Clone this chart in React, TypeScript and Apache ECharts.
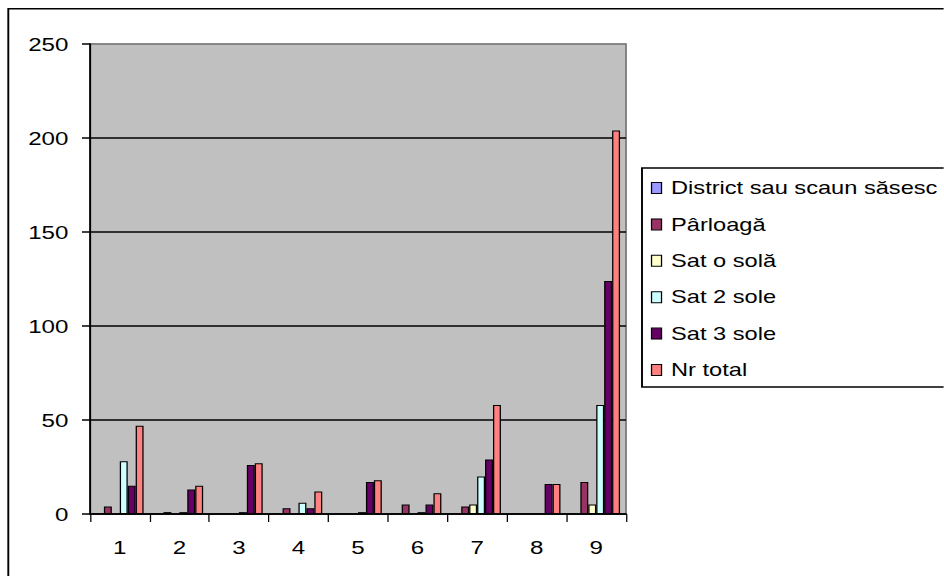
import React, { useEffect, useRef } from "react";
import * as echarts from "echarts";

const categories = ["1", "2", "3", "4", "5", "6", "7", "8", "9"];
const seriesNames = ["District sau scaun săsesc", "Pârloagă", "Sat o solă", "Sat 2 sole", "Sat 3 sole", "Nr total"];
const district = [0, 0, 0, 0, 0, 0, 0, 0, 0];
const parloaga = [4, 1, 0, 3, 0, 5, 4, 0, 17];
const satOSola = [0, 0, 0, 0, 0, 0, 5, 0, 5];
const sat2Sole = [28, 1, 1, 6, 1, 1, 20, 0, 58];
const sat3Sole = [15, 13, 26, 3, 17, 5, 29, 16, 124];
const nrTotal = [47, 15, 27, 12, 18, 11, 58, 16, 204];
const colors = ["#9999FF", "#993366", "#FFFFCC", "#CCFFFF", "#660066", "#FF8080"];
const yMax = 250;
const yInterval = 50;

const S = 1.27; // horizontal stretch of the original picture
const W = 944 / S;
const FONT = "'Liberation Sans', Arial, sans-serif";
const FS = 19;
const LFS = 18.6;

export default function App() {
  const ref = useRef<HTMLDivElement>(null);
  useEffect(() => {
    if (!ref.current) return;
    const chart = echarts.init(ref.current, undefined, { renderer: "svg" });
    const all = [district, parloaga, satOSola, sat2Sole, sat3Sole, nrTotal];
    chart.setOption({
      animation: false,
      backgroundColor: "#ffffff",
      grid: {
        left: 90 / S,
        top: 44,
        width: (626 - 90) / S,
        height: 470,
        show: true,
        backgroundColor: "#C0C0C0",
        borderColor: "#808080",
        borderWidth: 1.5,
      },
      legend: {
        orient: "vertical",
        left: 642 / S,
        top: 168,
        padding: [10, 14, 7, 7],
        borderColor: "#000",
        borderWidth: 1.5,
        backgroundColor: "#fff",
        itemWidth: 10 / S,
        itemHeight: 11,
        itemGap: 16.4,
        icon: "rect",
        itemStyle: { borderColor: "#000", borderWidth: 1 },
        textStyle: { fontFamily: FONT, fontSize: LFS, color: "#000", lineHeight: 20, padding: [0, 0, 0, 2.5] },
        data: seriesNames,
      },
      graphic: [
        {
          type: "rect",
          shape: { x: 8.3 / S, y: 8.8, width: 900, height: 700 },
          style: { fill: "none", stroke: "#000", lineWidth: 1.5 },
          silent: true,
          z: 100,
        },
      ],
      xAxis: {
        type: "category",
        data: categories,
        boundaryGap: true,
        axisLine: { lineStyle: { color: "#000", width: 1.5 } },
        axisTick: { show: true, length: 8, alignWithLabel: false, lineStyle: { color: "#000", width: 1 } },
        axisLabel: { fontFamily: FONT, fontSize: FS, color: "#000", margin: 24 },
        splitLine: { show: false },
      },
      yAxis: {
        type: "value",
        min: 0,
        max: yMax,
        interval: yInterval,
        axisLine: { show: true, lineStyle: { color: "#000", width: 1.5 } },
        axisTick: { show: true, length: 8 / S, lineStyle: { color: "#000", width: 1.5 } },
        axisLabel: { fontFamily: FONT, fontSize: FS, color: "#000", margin: 17 },
        splitLine: {
          show: true,
          lineStyle: { color: ["#000", "#000", "#000", "#000", "#000", "#808080"], width: 1.5 },
        },
      },
      series: all.map((vals, i) => ({
        name: seriesNames[i],
        type: "bar",
        data: vals.map((v) => (v === 0 ? "-" : v)),
        barGap: "0%",
        barCategoryGap: "20%",
        itemStyle: { color: colors[i], borderColor: "#000", borderWidth: 1 },
      })),
    });
    return () => chart.dispose();
  }, []);
  return (
    <div style={{ position: "fixed", left: 0, top: 0, width: 944, height: 576, overflow: "hidden", background: "#fff" }}>
      <div
        ref={ref}
        style={{ width: W, height: 576, transform: `scaleX(${S})`, transformOrigin: "0 0" }}
      />
    </div>
  );
}
